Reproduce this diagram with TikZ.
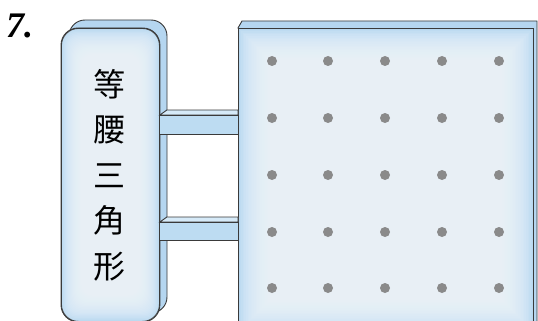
\documentclass[tikz,border=0pt]{standalone}
\usepackage{fontspec}
\usetikzlibrary{calc}
\setmainfont{Liberation Serif}
\newfontfamily\cjk{Noto Sans CJK TC}
\definecolor{edgeblue}{HTML}{B8D8F0}
\definecolor{centerblue}{HTML}{F1F8FE}
\definecolor{sideblue}{HTML}{B5D6F0}
\definecolor{bartop}{HTML}{D6EAF8}
\definecolor{barfront}{HTML}{BDDCF2}
\definecolor{outline}{HTML}{3A3A3A}
\definecolor{dotgray}{HTML}{8A8A8A}
\tikzset{
  face/.style={draw=outline, line width=0.9pt, fill=edgeblue},
  glow/.style={fill=centerblue, opacity=0.11},
  sideface/.style={draw=outline, line width=0.9pt, fill=sideblue},
  barfrontface/.style={draw=outline, line width=0.9pt, fill=barfront},
  bartopface/.style={draw=outline, line width=0.9pt, fill=bartop},
  peg/.style={circle, fill=dotgray, inner sep=0pt, minimum size=10pt},
}
\begin{document}
\begin{tikzpicture}[x=1pt,y=-1pt]
\useasboundingbox (0,0) rectangle (538,321);
\clip (0,0) rectangle (538,321);
% number
\node[anchor=base west, inner sep=0pt, font=\fontsize{36}{40}\selectfont\bfseries\itshape] (num) at (6,38) {7.};
% left box
\draw[sideface, rounded corners=16pt] (69,20) rectangle (167,313);
\node[face, rectangle, rounded corners=17pt, anchor=north west, inner sep=0pt, minimum width=98pt, minimum height=293pt] (label) at (61,28) {};
\foreach \k in {1,...,20}
  \fill[glow, rounded corners=12pt] ($(label.north west)+(1*\k,1.3*\k)$) rectangle ($(label.south east)+(-1*\k,-1.3*\k)$);
\draw[outline, line width=0.9pt, rounded corners=17pt] (label.north west) rectangle (label.south east);
\node[align=center, inner sep=0pt, font=\cjk\fontsize{32}{45.5}\selectfont] (txt) at (109,175) {等\\腰\\三\\角\\形};
% right box
\draw[sideface] (238,28) -- (242,21) -- (537,21) -- (537,324) -- (533,331) -- cycle;
\node[face, rectangle, anchor=north west, minimum width=295pt, minimum height=303pt, inner sep=0pt] (board) at (238,28) {};
\foreach \k in {1,...,20}
  \fill[glow] ($(board.north west)+(1.6*\k,1.6*\k)$) rectangle ($(board.south east)+(-1.6*\k,-1.6*\k)$);
\draw[outline, line width=0.9pt] (board.north west) rectangle (board.south east);
% bars
\foreach \t/\b [count=\i] in {115/134, 222/240} {
  \coordinate (b\i a) at (label.east |- 0,\t);
  \coordinate (b\i b) at (board.west |- 0,\b);
  \draw[bartopface] (b\i a) -- ++(7,-5) -- (board.west |- 0,{\t-5}) -- (board.west |- 0,\t) -- cycle;
  \draw[barfrontface] (b\i a) rectangle (b\i b);
}
% pegs
\foreach \x [count=\i] in {272,328,385,442,499} {
  \foreach \y [count=\j] in {61,118,175,232,288} {
    \node[peg] (p\i\j) at (\x,\y) {};
  }
}
\end{tikzpicture}
\end{document}
